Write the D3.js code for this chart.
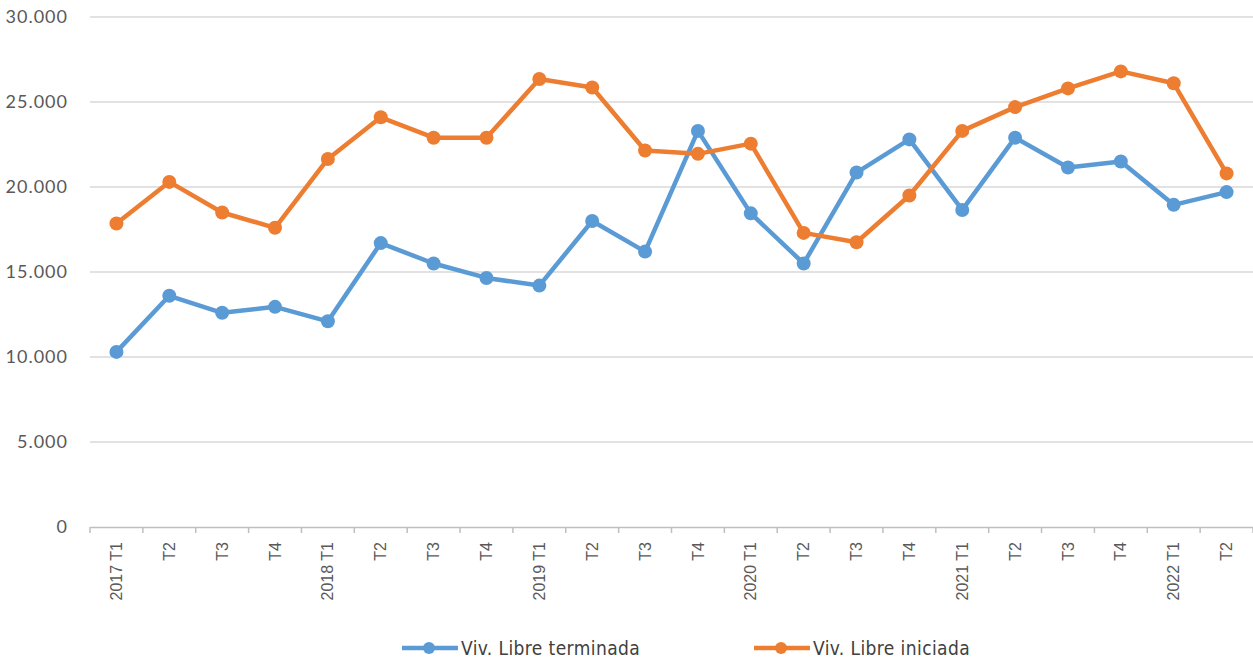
<!DOCTYPE html>
<html>
<head>
<meta charset="utf-8">
<script src="https://cdn.jsdelivr.net/npm/d3@7"></script>
<style>
  body { margin: 0; background: #fff; }
  .tick text { fill: #595959; }
</style>
</head>
<body>
<script>
var categories = ["2017 T1","T2","T3","T4","2018 T1","T2","T3","T4","2019 T1","T2","T3","T4",
  "2020 T1","T2","T3","T4","2021 T1","T2","T3","T4","2022 T1","T2"];
var terminada = [10300,13600,12600,12950,12100,16700,15500,14650,14200,18000,16200,23300,
  18450,15500,20850,22800,18650,22900,21150,21500,18950,19700];
var iniciada = [17850,20300,18500,17600,21650,24100,22900,22900,26350,25850,22150,21950,
  22550,17300,16750,19500,23300,24700,25800,26800,26100,20800];
var yTicks = [0,5000,10000,15000,20000,25000,30000];

var series = [
  { name: "Viv. Libre terminada", values: terminada, color: "#5b9bd5" },
  { name: "Viv. Libre iniciada", values: iniciada, color: "#ed7d31" }
];

var W = 1253, H = 662;
var margin = { top: 17, right: 0, bottom: 135, left: 90 };

var svg = d3.select('body').append('svg')
  .attr('width', W)
  .attr('height', H);

var x = d3.scaleBand().domain(d3.range(categories.length))
  .range([margin.left, W - margin.right]);
var y = d3.scaleLinear().domain([0, 30000]).range([H - margin.bottom, margin.top]);

var loc = d3.formatLocale({ decimal: ",", thousands: ".", grouping: [3], currency: ["", "€"] });
var fmt = loc.format(",d");

// gridlines
svg.append('g').selectAll('line').data(yTicks.slice(1)).enter().append('line')
  .attr('x1', margin.left).attr('x2', W - margin.right)
  .attr('y1', d => y(d)).attr('y2', d => y(d))
  .attr('stroke', '#d9d9d9').attr('stroke-width', 1.5);

// y axis labels
var yAxis = svg.append('g')
  .attr('transform', 'translate(' + (margin.left - 22) + ',0)')
  .call(d3.axisLeft(y).tickValues(yTicks).tickFormat(fmt).tickSize(0).tickPadding(0));
yAxis.select('.domain').remove();
yAxis.attr('font-family', 'Lato, sans-serif').attr('font-size', 18);
yAxis.selectAll('text')
  .style('letter-spacing', '1px')
  .attr('dy', '0.3em');

// x axis
var xAxis = svg.append('g')
  .attr('transform', 'translate(0,' + y(0) + ')')
  .call(d3.axisBottom(x).tickFormat(i => categories[i]).tickSize(0));
xAxis.select('.domain').attr('stroke', '#bfbfbf').attr('stroke-width', 1.5);
xAxis.attr('font-family', '"Liberation Sans", Arial, sans-serif').attr('font-size', 16);
xAxis.selectAll('text')
  .attr('transform', 'rotate(-90)')
  .attr('text-anchor', 'end')
  .attr('x', -15)
  .attr('y', 0)
  .attr('dy', '0.35em');

// tick marks at band boundaries
var bounds = d3.range(categories.length + 1).map(i => margin.left + i * x.step());
svg.append('g').selectAll('line').data(bounds).enter().append('line')
  .attr('x1', d => d).attr('x2', d => d)
  .attr('y1', y(0)).attr('y2', y(0) + 6)
  .attr('stroke', '#bfbfbf').attr('stroke-width', 1.5);

var cx = i => x(i) + x.bandwidth() / 2;
var line = d3.line().x((d, i) => cx(i)).y(d => y(d));

series.forEach(function(s) {
  var g = svg.append('g');
  g.append('path').datum(s.values)
    .attr('d', line)
    .attr('fill', 'none')
    .attr('stroke', s.color)
    .attr('stroke-width', 4.5)
    .attr('stroke-linejoin', 'round');
  g.selectAll('circle').data(s.values).enter().append('circle')
    .attr('cx', (d, i) => cx(i))
    .attr('cy', d => y(d))
    .attr('r', 7)
    .attr('fill', s.color);
});

// legend
var legendX = [402, 754];
var legend = svg.append('g').selectAll('g').data(series).enter().append('g')
  .attr('transform', (d, i) => 'translate(' + legendX[i] + ',648)');
legend.append('line')
  .attr('x1', 0).attr('x2', 56)
  .attr('stroke', d => d.color).attr('stroke-width', 4.5);
legend.append('circle')
  .attr('cx', 27).attr('r', 6)
  .attr('fill', d => d.color);
legend.append('text')
  .attr('x', 59).attr('dy', '0.36em')
  .attr('font-family', '"DejaVu Sans Condensed", "DejaVu Sans", sans-serif')
  .attr('font-size', 19)
  .style('font-stretch', 'condensed')
  .style('letter-spacing', '0.4px')
  .attr('fill', '#404040')
  .text(d => d.name);
</script>
</body>
</html>
